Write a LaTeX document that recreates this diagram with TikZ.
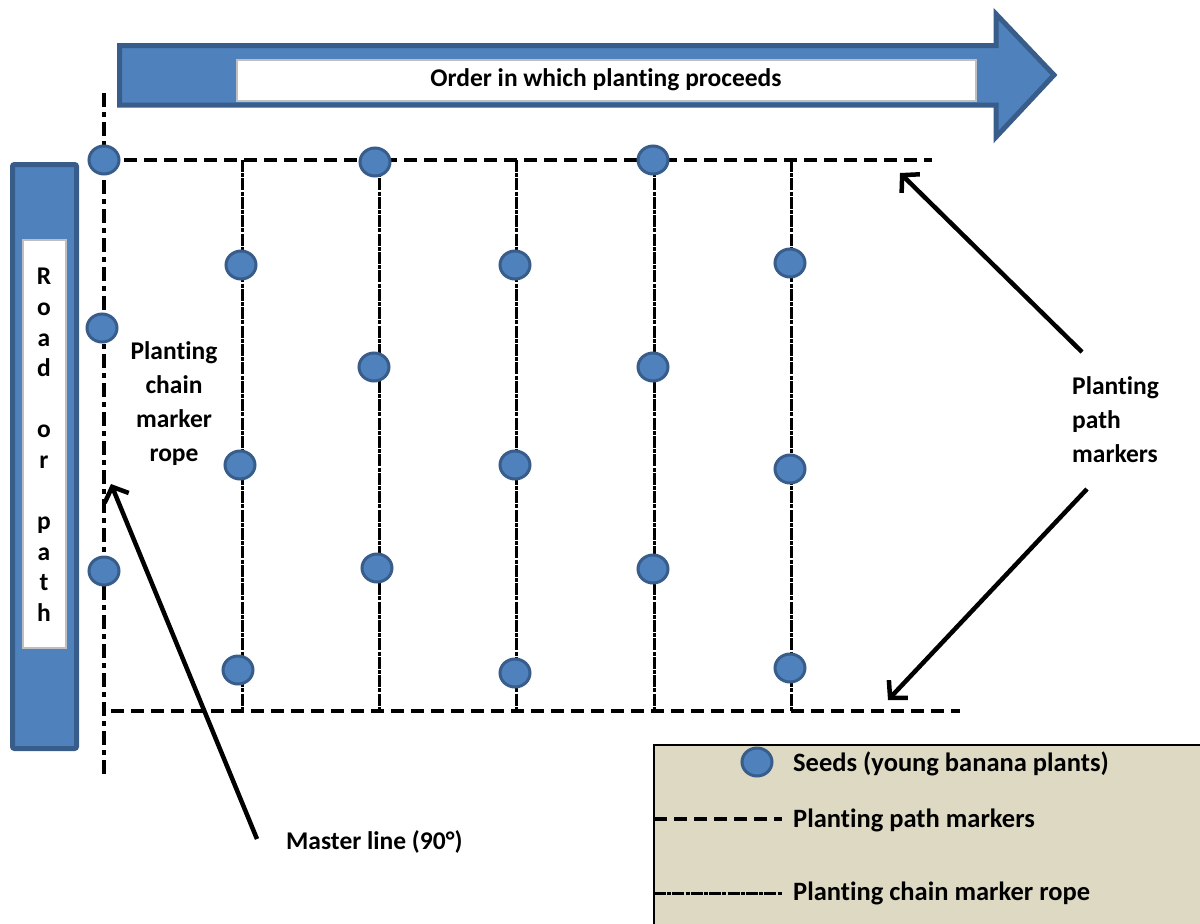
\documentclass[tikz,border=0pt]{standalone}
\usepackage{fontspec}
\setmainfont{Carlito}[Ligatures={NoCommon,NoRare,NoContextual}]
\usetikzlibrary{arrows.meta,shapes.geometric}
\definecolor{blueF}{HTML}{4F81BD}
\definecolor{blueD}{HTML}{385D8A}
\definecolor{legbg}{HTML}{DDD9C3}
\definecolor{boxgrey}{HTML}{BFBFBF}
\tikzset{
  seed/.style={ellipse,minimum width=30pt,minimum height=28pt,inner sep=0pt,fill=blueF,draw=blueD,line width=3pt},
  pathline/.style={line width=4.5pt,dash pattern=on 13pt off 7pt},
  masterline/.style={line width=4.5pt,dash pattern=on 14pt off 5pt on 5pt off 5pt},
  ropeline/.style={line width=3pt,dash pattern=on 12pt off 1.2pt on 4pt off 1.2pt},
  lbl/.style={font=\fontsize{25.5}{34}\selectfont\bfseries,inner sep=0pt},
  leglbl/.style={font=\fontsize{26.5}{34}\selectfont\bfseries,inner sep=0pt},
  pointer/.style={line width=4.5pt,-{Straight Barb[length=12pt,width=26pt]}},
}
\begin{document}
\begin{tikzpicture}[x=1pt,y=-1pt]
\useasboundingbox (0,0) rectangle (1200,924);
% big arrow
\draw[fill=blueF,draw=blueD,line width=5pt,line join=miter]
  (119.5,45.5) -- (996,45.5) -- (996,14) -- (1054,75) -- (996,137) -- (996,105) -- (119.5,105) -- cycle;
\draw[fill=white,draw=boxgrey,line width=1.5pt] (237,60) rectangle (976,101);
\node[lbl] (order) at (606,80) {Order in which planting proceeds};
% road box
\draw[fill=blueF,draw=blueD,line width=5pt,rounded corners=2pt] (12.5,164.5) rectangle (76.5,748.5);
\draw[fill=white,draw=boxgrey,line width=1.5pt] (23,240) rectangle (66,648);
\node[lbl,align=center,font=\fontsize{25.5}{30.6}\selectfont\bfseries] (road) at (44,445)
  {R\\o\\a\\d\\[30.6pt]o\\r\\[30.6pt]p\\a\\t\\h};
% legend box
\fill[legbg] (654,745) rectangle (1205,930);
\draw[line width=1.5pt] (1205,745) -- (654,745) -- (654,930);
% coordinates of lines
\coordinate (mT) at (104,93);
\coordinate (mB) at (104,778);
\coordinate (tL) at (104,160);
\coordinate (tR) at (932,160);
\coordinate (bL) at (111,711);
\coordinate (bR) at (960,711);
\draw[masterline] (mT) -- (mB);
\foreach \x/\n in {242/a,379/b,516/c,654/d,791/e}{
  \coordinate (r\n T) at (\x,160);
  \coordinate (r\n B) at (\x,711);
  \draw[ropeline] (r\n T) -- (r\n B);
}
\draw[pathline] (tL) -- (tR);
\draw[pathline] (bL) -- (bR);
% seeds
\node[seed] (s1) at (104,160) {};
\node[seed] (s2) at (102,328) {};
\node[seed] (s3) at (104,571) {};
\node[seed] (s4) at (241,265) {};
\node[seed] (s5) at (240,465) {};
\node[seed] (s6) at (238,670) {};
\node[seed] (s7) at (375,162) {};
\node[seed] (s8) at (374,367) {};
\node[seed] (s9) at (377,568) {};
\node[seed] (s10) at (515,265) {};
\node[seed] (s11) at (515,465) {};
\node[seed] (s12) at (515,673) {};
\node[seed] (s13) at (653,160) {};
\node[seed] (s14) at (653,367) {};
\node[seed] (s15) at (653,569) {};
\node[seed] (s16) at (790,263) {};
\node[seed] (s17) at (790,469) {};
\node[seed] (s18) at (790,668) {};
% labels
\node[lbl,align=center] (chain) at (174,404) {Planting\\chain\\marker\\rope};
\node[lbl,align=left,anchor=west] (ppm) at (1072,420) {Planting\\path\\markers};
\node[lbl,anchor=west] (master) at (286,842) {Master line (90°)};
% pointers
\coordinate (p1s) at (1082,352);
\coordinate (p1e) at (900,173);
\coordinate (p2s) at (1087,489);
\coordinate (p2e) at (888,700);
\coordinate (p3s) at (257,839);
\coordinate (p3e) at (111,484);
\draw[pointer] (p1s) -- (p1e);
\draw[pointer] (p2s) -- (p2e);
\draw[pointer] (p3s) -- (p3e);
% legend
\node[seed] (lseed) at (757,762) {};
\node[leglbl,anchor=west] (lt1) at (793,764) {Seeds (young banana plants)};
\coordinate (l2a) at (654,819);
\coordinate (l2b) at (782,819);
\draw[pathline] (l2a) -- (l2b);
\node[leglbl,anchor=west] (lt2) at (793,820) {Planting path markers};
\coordinate (l3a) at (654,893);
\coordinate (l3b) at (782,893);
\draw[ropeline] (l3a) -- (l3b);
\node[leglbl,anchor=west] (lt3) at (793,893) {Planting chain marker rope};
\end{tikzpicture}
\end{document}
